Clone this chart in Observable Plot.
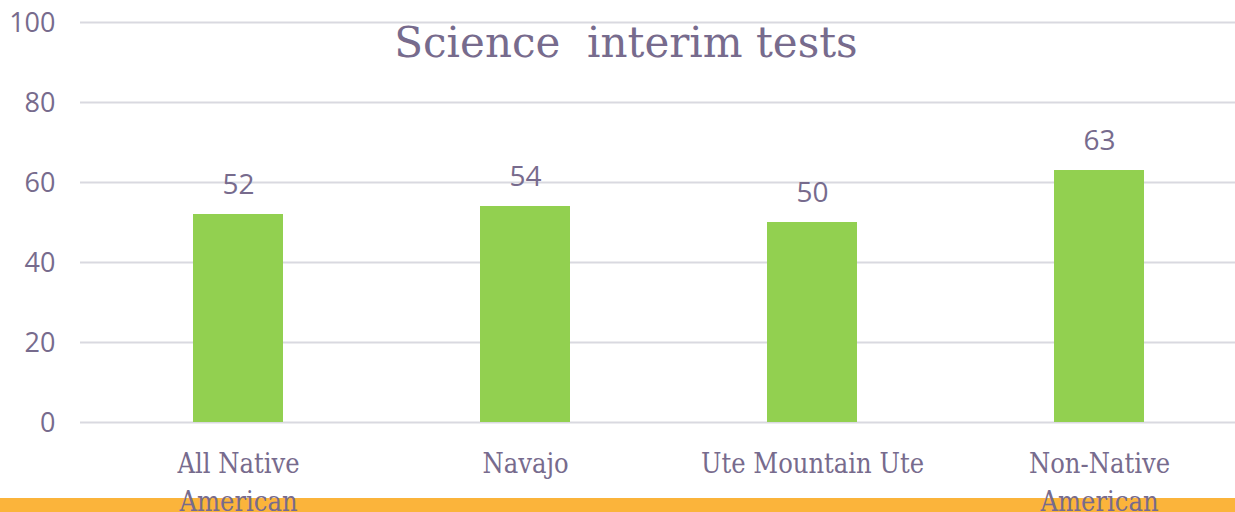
<!DOCTYPE html>
<html>
<head>
<meta charset="utf-8">
<script src="https://cdn.jsdelivr.net/npm/d3@7"></script>
<script src="https://cdn.jsdelivr.net/npm/@observablehq/plot@0.6"></script>
<style>
  html, body { margin: 0; padding: 0; background: #fff; overflow: hidden; }
  #wrap { position: relative; width: 1235px; height: 512px; }
  #band { position: absolute; left: 0; top: 498px; width: 1235px; height: 14px; background: #fbb43b; z-index: 0; }
  #chart { position: absolute; left: 0; top: 0; z-index: 1; }
  #chart svg { background: transparent; }
</style>
</head>
<body>
<div id="wrap"><div id="band"></div><div id="chart"></div></div>
<script>
const categories = ["All Native American", "Navajo", "Ute Mountain Ute", "Non-Native American"];
const axisLabels = ["All Native\nAmerican", "Navajo", "Ute Mountain Ute", "Non-Native\nAmerican"];
const values = [52, 54, 50, 63];
const yTicks = [0, 20, 40, 60, 80, 100];
const titleText = "Science  interim tests";

const textColor = "#776b8d";
const sansFont = "'Open Sans', sans-serif";
const serifFont = "'DejaVu Serif Condensed', 'DejaVu Serif', serif";
const titleFont = "'DejaVu Serif', serif";

const data = categories.map((c, i) => ({cat: c, value: values[i]}));
const labelOf = new Map(categories.map((c, i) => [c, axisLabels[i]]));

const chart = Plot.plot({
  width: 1235,
  height: 512,
  marginTop: 22,
  marginBottom: 90,
  marginLeft: 80,
  marginRight: 0,
  style: {background: "transparent", overflow: "visible"},
  x: {domain: categories, range: [93.25, 1243.25], paddingInner: 0.687, paddingOuter: 0.3435},
  y: {domain: [0, 100]},
  marks: [
    Plot.gridY(yTicks, {stroke: "#d9d9e0", strokeOpacity: 1, strokeWidth: 2}),
    Plot.axisY(yTicks, {tickSize: 0, tickPadding: 25, fontSize: 27, dy: 1, fill: textColor, fontFamily: sansFont, label: null}),
    Plot.barY(data, {x: "cat", y: "value", fill: "#92d050"}),
    Plot.text(data, {x: "cat", y: "value", text: d => String(d.value), dy: -29, fontSize: 28, fill: textColor, fontFamily: sansFont}),
    Plot.axisX({tickSize: 0, tickPadding: 24, tickFormat: d => labelOf.get(d), fontSize: 27, lineHeight: 1.4, lineAnchor: "top", fill: textColor, fontFamily: serifFont, label: null}),
    Plot.text([titleText], {frameAnchor: "top", dy: 5, dx: -32, fontSize: 42, fill: textColor, fontFamily: titleFont})
  ]
});
document.getElementById("chart").appendChild(chart);
</script>
</body>
</html>
